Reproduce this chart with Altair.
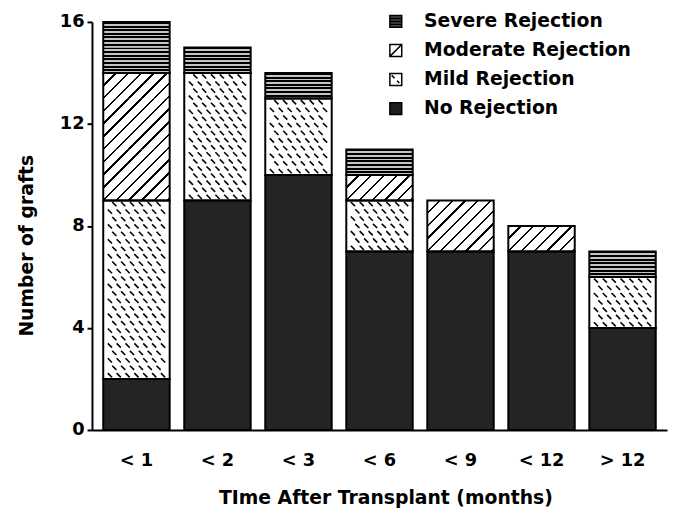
import altair as alt
import pandas as pd

# ---- data ----
categories = ["< 1", "< 2", "< 3", "< 6", "< 9", "< 12", "> 12"]
no_rejection = [2, 9, 10, 7, 7, 7, 4]
mild_rejection = [7, 5, 3, 2, 0, 0, 2]
moderate_rejection = [5, 0, 0, 1, 2, 1, 0]
severe_rejection = [2, 1, 1, 1, 0, 0, 1]
stack_order = ["No Rejection", "Mild Rejection", "Moderate Rejection", "Severe Rejection"]
legend_order = ["Severe Rejection", "Moderate Rejection", "Mild Rejection", "No Rejection"]
y_ticks = [0, 4, 8, 12, 16]
x_title = "TIme After Transplant (months)"
y_title = "Number of grafts"

# ---- layout / style ----
W, H = 582, 413
P_IN, P_OUT = 0.18, 0.139
FONT = "DejaVu Sans"
N = len(categories)
D = P_OUT + (1 - P_IN) / 2  # band-centre offset in steps

series = dict(zip(stack_order, [no_rejection, mild_rejection, moderate_rejection, severe_rejection]))
seg_rows, unit_rows, dash_rows = [], [], []
for i, cat in enumerate(categories):
    base = 0
    for name in stack_order:
        n = series[name][i]
        if n > 0:
            seg_rows.append({"cat": cat, "series": name, "y0": base, "y1": base + n})
            for u in range(n):
                unit_rows.append({"cat": cat, "series": name, "y0": base + u, "y1": base + u + 1})
            if name == "Mild Rejection":
                rows = int(round(n * 3.5))
                for r in range(rows):
                    yv = base + (r + 0.5) * n / rows
                    ks = range(1, 14, 2) if r % 2 == 0 else range(2, 13, 2)
                    for k in ks:
                        dash_rows.append({"xq": i + ((k + 0.5) / 15 - 0.5) * (1 - P_IN), "y": yv})
        base += n

seg = pd.DataFrame(seg_rows)
units = pd.DataFrame(unit_rows)
dashes = pd.DataFrame(dash_rows)
legend_df = pd.DataFrame({"series": legend_order})

# gradients imitating the hatch patterns
def hstripes(n=7, dark=0.55, light="#c4c4c4"):
    stops = []
    for i in range(n):
        a, m, b = i / n, (i + dark) / n, (i + 1) / n
        stops += [alt.GradientStop(offset=a, color="black"), alt.GradientStop(offset=m, color="black"),
                  alt.GradientStop(offset=m, color=light), alt.GradientStop(offset=b, color=light)]
    return alt.LinearGradient(gradient="linear", stops=stops, x1=0, y1=0, x2=0, y2=1)

step = W / (N - P_IN + 2 * P_OUT)
bw = (1 - P_IN) * step
uh = H / 16.0

def diag(period=uh / 2, half=1.2):
    S = bw + uh
    c = S / (bw ** 2 + uh ** 2)
    stops = [alt.GradientStop(offset=0, color="white")]
    k = 0
    while k * period - half < S:
        lo = max(0.0, (k * period - half) / S)
        hi = min(1.0, (k * period + half) / S)
        stops += [alt.GradientStop(offset=lo, color="white"), alt.GradientStop(offset=lo, color="black"),
                  alt.GradientStop(offset=hi, color="black"), alt.GradientStop(offset=hi, color="white")]
        k += 1
    stops.append(alt.GradientStop(offset=1, color="white"))
    return alt.LinearGradient(gradient="linear", stops=stops, x1=0, y1=0, x2=bw * c, y2=uh * c)

xscale = alt.Scale(domain=categories, paddingInner=P_IN, paddingOuter=P_OUT)
yscale = alt.Scale(domain=[0, 16], nice=False, zero=True)

x_axis = alt.Axis(labelAngle=0, labelFont=FONT, labelFontSize=18, labelFontWeight="bold", labelColor="black",
                  labelPadding=22, ticks=False, tickSize=0, domainColor="black", domainWidth=2,
                  titleFont=FONT, titleFontSize=19, titleFontWeight="bold", titleColor="black",
                  titleX=297, titleY=74, titleBaseline="alphabetic", grid=False)
y_axis = alt.Axis(values=y_ticks, labelFont=FONT, labelFontSize=18, labelFontWeight="bold", labelColor="black",
                  labelPadding=3, tickSize=5, tickWidth=2, tickColor="black", domainColor="black", domainWidth=2,
                  titleFont=FONT, titleFontSize=19, titleFontWeight="bold", titleColor="black",
                  titleX=-66, titleY=226, titleBaseline="middle", titleAngle=270, grid=False)

X = alt.X("cat:N", scale=xscale, sort=categories, axis=x_axis, title=x_title)
Y0 = alt.Y("y0:Q", scale=yscale, axis=y_axis, title=y_title)

solid = alt.Chart(seg).mark_bar(strokeWidth=0).encode(
    x=X, y=Y0, y2="y1:Q",
    fill=alt.condition("datum.series === 'No Rejection'", alt.value("#242424"), alt.value("white")),
).transform_filter("datum.series === 'No Rejection' || datum.series === 'Mild Rejection'")

severe_layer = alt.Chart(units).mark_bar(strokeWidth=0, fill=hstripes()).encode(
    x=X, y=Y0, y2="y1:Q",
).transform_filter("datum.series === 'Severe Rejection'")

moderate_layer = alt.Chart(units).mark_bar(strokeWidth=0, fill=diag()).encode(
    x=X, y=Y0, y2="y1:Q",
).transform_filter("datum.series === 'Moderate Rejection'")

outline = alt.Chart(seg).mark_bar(fillOpacity=0, stroke="black", strokeWidth=2).encode(
    x=alt.X("cat:N", scale=xscale, sort=categories, axis=None),
    y=Y0, y2="y1:Q",
)

bars = alt.layer(solid, severe_layer, moderate_layer)

dash_layer = alt.Chart(dashes).mark_point(shape="M-1,-1L1,1", filled=False, color="black",
                                          strokeWidth=1.6, size=18, opacity=1).encode(
    x=alt.X("xq:Q", scale=alt.Scale(domain=[-D, N - 1 + D], nice=False, zero=False), axis=None),
    y=alt.Y("y:Q", scale=yscale, axis=y_axis, title=y_title),
)

shapes = [
    "M-1,-1H1V1H-1Z M-1,-0.5H1 M-1,0H1 M-1,0.5H1",
    "M-1,-1H1V1H-1Z M-1,1L1,-1",
    "M-1,-1H1V1H-1Z M-0.7,-0.7L-0.2,-0.2 M0.2,0.2L0.6,0.6",
    "M-1,-1H1V1H-1Z",
]
fills = ["#4a4a4a", "white", "white", "#1e1e1e"]
leg = alt.Legend(title=None, orient="none", legendX=298, legendY=-10, padding=0,
                 labelFont=FONT, labelFontSize=19, labelFontWeight="bold", labelColor="black",
                 labelOffset=19, labelLimit=400, rowPadding=9.4, symbolSize=144, symbolStrokeWidth=1.5,
                 symbolStrokeColor="black", symbolOpacity=1)
legend_layer = alt.Chart(legend_df).mark_point(filled=True, opacity=0, strokeWidth=1.5).encode(
    fill=alt.Fill("series:N", scale=alt.Scale(domain=legend_order, range=fills), legend=leg),
    shape=alt.Shape("series:N", scale=alt.Scale(domain=legend_order, range=shapes), legend=leg),
    stroke=alt.Stroke("series:N", scale=alt.Scale(domain=legend_order, range=["black"] * 4), legend=leg),
)

chart = alt.layer(bars, dash_layer, outline, legend_layer).resolve_scale(x="independent").properties(
    width=W, height=H, autosize="none",
    padding={"left": 85, "top": 11, "right": 1, "bottom": 84},
).configure(font=FONT, background="white").configure_view(strokeWidth=0)

chart.save("out.html", embed_options={"renderer": "svg", "actions": False})
